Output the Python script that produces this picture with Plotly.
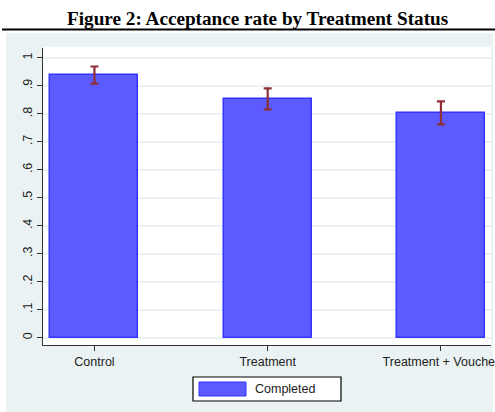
import plotly.graph_objects as go

# Acceptance rate by treatment arm, with 95% confidence bounds
groups = ["Control", "Treatment", "Treatment + Voucher"]
rate = [0.939, 0.853, 0.804]
ci_low = [0.908, 0.816, 0.762]
ci_high = [0.969, 0.891, 0.844]
series_name = "Completed"

y_ticks = [0, 0.1, 0.2, 0.3, 0.4, 0.5, 0.6, 0.7, 0.8, 0.9, 1.0]
y_tick_text = ["0", ".1", ".2", ".3", ".4", ".5", ".6", ".7", ".8", ".9", "1"]

W, H = 495, 412
BG = "#EAF2F3"
BAR_FILL = "#5B5BFF"
BAR_EDGE = "#3535FF"
ERR = "#8E2F35"
AXIS = "#333333"


def px(x):
    return x / W


def py(y):
    return 1 - y / H


fig = go.Figure()
fig.add_trace(go.Bar(
    x=groups,
    y=rate,
    name=series_name,
    width=0.508,
    marker=dict(color=BAR_FILL, line=dict(color=BAR_EDGE, width=1.5)),
    error_y=dict(
        type="data",
        symmetric=False,
        array=[h - r for h, r in zip(ci_high, rate)],
        arrayminus=[r - l for r, l in zip(rate, ci_low)],
        color=ERR,
        thickness=2.2,
        width=4,
    ),
    showlegend=False,
))

shapes = [
    # tinted graph region
    dict(type="rect", xref="paper", yref="paper",
         x0=px(6), x1=px(493), y0=0, y1=py(33),
         fillcolor=BG, line=dict(width=0), layer="below"),
    # white plot region on top of the tint
    dict(type="rect", xref="paper", yref="paper",
         x0=px(43), x1=px(491), y0=py(345), y1=py(47),
         fillcolor="white", line=dict(width=0), layer="below"),
    # rule under the title
    dict(type="line", xref="paper", yref="paper",
         x0=px(2), x1=1, y0=py(29.5), y1=py(29.5),
         line=dict(color="black", width=2)),
    # legend frame
    dict(type="rect", xref="paper", yref="paper",
         x0=px(193), x1=px(341), y0=py(401), y1=py(377),
         fillcolor="white", line=dict(color="black", width=1.2)),
    # legend key
    dict(type="rect", xref="paper", yref="paper",
         x0=px(199), x1=px(246), y0=py(396), y1=py(382),
         fillcolor=BAR_FILL, line=dict(color=BAR_EDGE, width=1)),
]

annotations = [
    dict(text="<b>Figure 2: Acceptance rate by Treatment Status</b>",
         xref="paper", yref="paper", x=px(257), y=py(19),
         xanchor="center", yanchor="middle", showarrow=False,
         font=dict(family="Liberation Serif, Times New Roman, serif",
                   size=19.2, color="black")),
    dict(text=series_name, xref="paper", yref="paper",
         x=px(253), y=py(389), xanchor="left", yanchor="middle",
         showarrow=False,
         font=dict(family="Liberation Sans, Arial, sans-serif",
                   size=12.5, color="#222222")),
]

fig.update_layout(
    width=W, height=H,
    margin=dict(l=0, r=0, t=0, b=0),
    paper_bgcolor="white",
    plot_bgcolor="white",
    shapes=shapes,
    annotations=annotations,
    bargap=0,
    font=dict(family="Liberation Sans, Arial, sans-serif", size=12.5, color=AXIS),
    xaxis=dict(
        domain=[px(43), px(491)],
        range=[-0.297, 2.289],
        showgrid=False,
        showline=True, linecolor=AXIS, linewidth=1.2,
        ticks="outside", ticklen=5, tickcolor=AXIS, tickwidth=1.2,
        tickfont=dict(size=12.5, color="#222222"),
        automargin=False,
        fixedrange=True,
    ),
    yaxis=dict(
        domain=[py(345), py(48)],
        range=[-0.026, 1.035],
        tickvals=y_ticks, ticktext=y_tick_text,
        tickangle=-90,
        showgrid=True, gridcolor=BG, gridwidth=1.5,
        zeroline=False,
        showline=True, linecolor=AXIS, linewidth=1.2,
        ticks="outside", ticklen=5, tickcolor=AXIS, tickwidth=1.2,
        tickfont=dict(size=12.5, color="#222222"),
        automargin=False,
        fixedrange=True,
    ),
)

fig.write_html("out.html")
